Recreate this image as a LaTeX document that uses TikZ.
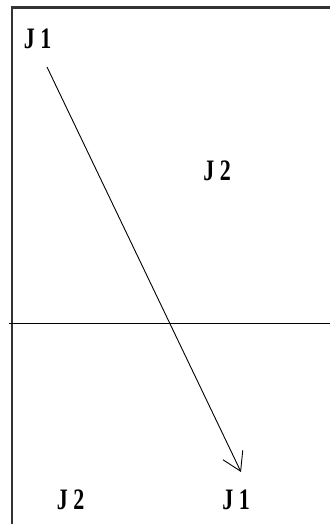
\documentclass[tikz,border=0pt]{standalone}
\usepackage{fontspec}
\setmainfont{Liberation Serif}
\usetikzlibrary{arrows.meta}
\tikzset{
  lbl/.style={inner sep=0pt, font=\fontsize{22}{22}\selectfont\bfseries},
  frame/.style={line width=2.2pt, draw=black!80},
  midline/.style={line width=1.4pt},
  arr/.style={line width=0.9pt, -{Straight Barb[length=18pt, width=22pt, line width=0.9pt]}}
}
\newcommand{\tallj}[1]{\scalebox{1}[1.35]{#1}}
\begin{document}
\begin{tikzpicture}[x=1pt, y=-1pt]
  \useasboundingbox (0,0) rectangle (330,524);
  % frame
  \coordinate (tl) at (12,7.5);
  \coordinate (tr) at (330,7.5);
  \coordinate (bl) at (12,524);
  \draw[frame] (tr) -- (tl) -- (bl);
  % middle horizontal line
  \coordinate (ml) at (9,323.5);
  \coordinate (mr) at (330,323.5);
  \draw[midline] (ml) -- (mr);
  % labels
  \node[lbl] (j1top) at (37.5,39) {\tallj{J 1}};
  \node[lbl] (j2mid) at (217,171) {\tallj{J 2}};
  \node[lbl] (j2bot) at (70.5,500) {\tallj{J 2}};
  \node[lbl] (j1bot) at (236,500) {\tallj{J 1}};
  % arrow
  \coordinate (as) at (47,67);
  \coordinate (ae) at (241,472);
  \draw[arr] (as) -- (ae);
\end{tikzpicture}
\end{document}
